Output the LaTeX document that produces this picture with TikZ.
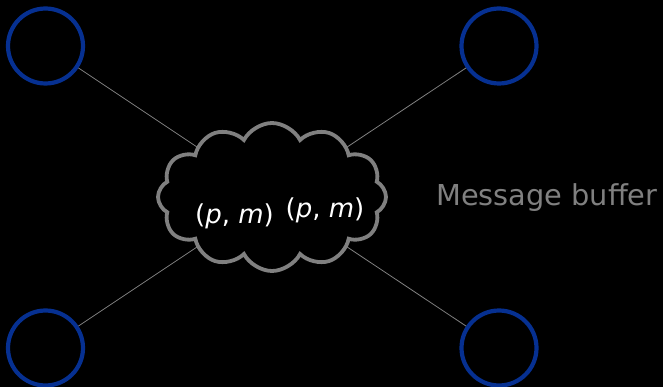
\documentclass[tikz,border=0pt]{standalone}
\usepackage{fontspec}
\setmainfont{DejaVu Sans}
\usetikzlibrary{shapes.symbols}
\definecolor{procblue}{RGB}{6,48,145}
\definecolor{bufgray}{RGB}{128,128,128}
\begin{document}
\begin{tikzpicture}[x=1pt,y=-1pt,
  proc/.style={circle,draw=procblue,line width=4.2pt,minimum size=75pt,inner sep=0pt},
  link/.style={draw=bufgray,line width=0.8pt},
  buffer/.style={cloud,cloud puffs=12,cloud puff arc=125,draw=bufgray,fill=black,
    line width=3.8pt,minimum width=228pt,minimum height=148pt,aspect=1.5},
  msg/.style={text=white,font=\fontsize{26}{30}\selectfont,inner sep=0pt},
  caption/.style={text=bufgray,font=\fontsize{28.8}{34}\selectfont,inner sep=0pt}]
  % background and frame
  \fill[black] (0,0) rectangle (663,387);
  \useasboundingbox (0,0) rectangle (663,387);

  % processes at the four corners
  \node[proc] (p1) at (45.5,46) {};
  \node[proc] (p2) at (499,46) {};
  \node[proc] (p3) at (45.5,348) {};
  \node[proc] (p4) at (499,348) {};

  % centre of the shared buffer
  \coordinate (bc) at (272,197);

  % links from every process to the buffer
  \draw[link] (p1) -- (bc);
  \draw[link] (p2) -- (bc);
  \draw[link] (p3) -- (bc);
  \draw[link] (p4) -- (bc);

  % the message buffer itself
  \node[buffer] (buf) at (bc) {};

  % messages in transit
  \node[msg] (m1) at (234.5,216) {(\textit{p}, \textit{m})};
  \node[msg] (m2) at (325,210) {(\textit{p}, \textit{m})};

  % caption
  \node[caption,anchor=base west] (cap) at (436,206) {Message buffer};
\end{tikzpicture}
\end{document}
